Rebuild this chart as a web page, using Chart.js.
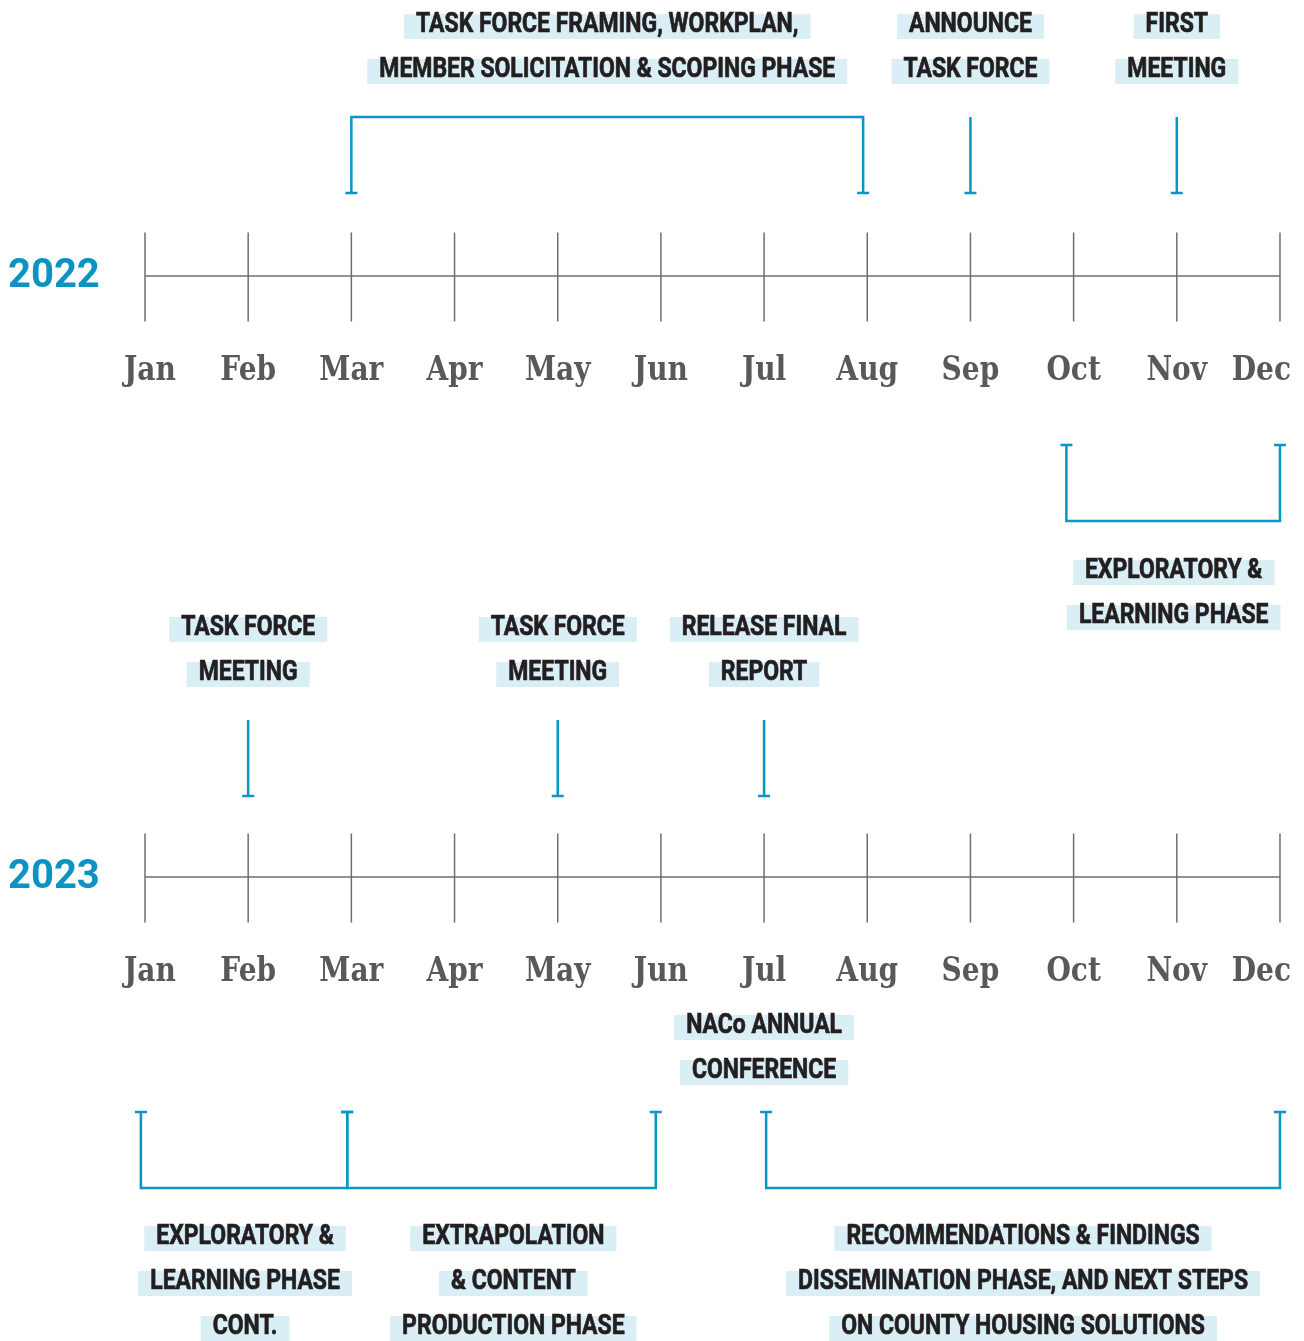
<!DOCTYPE html>
<html>
<head>
  <meta charset="utf-8">
  <title>Task Force Timeline 2022-2023</title>
  <script src="https://cdn.jsdelivr.net/npm/chart.js@4.4.0/dist/chart.umd.min.js"></script>
  <style>
    body { margin: 0; background: #fff; }
    #timeline { display: block; }
  </style>
</head>
<body>
<canvas id="timeline" width="1304" height="1341"></canvas>
<script>
// ---- data (months are 0 = Jan ... 11 = Dec) ----
const months = ['Jan', 'Feb', 'Mar', 'Apr', 'May', 'Jun', 'Jul', 'Aug', 'Sep', 'Oct', 'Nov', 'Dec'];
const years = ['2022', '2023'];

const events2022 = [8, 10];
const eventText2022 = [['ANNOUNCE', 'TASK FORCE'], ['FIRST', 'MEETING']];
const phaseFrom2022 = [2, 8.93];
const phaseTo2022 = [6.96, 11];
const phaseLabelAt2022 = [4.48, 9.97];
const phaseText2022 = [
  ['TASK FORCE FRAMING, WORKPLAN,', 'MEMBER SOLICITATION & SCOPING PHASE'],
  ['EXPLORATORY &', 'LEARNING PHASE']
];

const events2023 = [1, 4, 6];
const eventText2023 = [['TASK FORCE', 'MEETING'], ['TASK FORCE', 'MEETING'], ['RELEASE FINAL', 'REPORT']];
const notes2023 = [6];
const noteText2023 = [['NACo ANNUAL', 'CONFERENCE']];
const phaseFrom2023 = [-0.04, 1.96, 6.02];
const phaseTo2023 = [1.96, 4.95, 11];
const phaseLabelAt2023 = [0.97, 3.57, 8.51];
const phaseText2023 = [
  ['EXPLORATORY &', 'LEARNING PHASE', 'CONT.'],
  ['EXTRAPOLATION', '& CONTENT', 'PRODUCTION PHASE'],
  ['RECOMMENDATIONS & FINDINGS', 'DISSEMINATION PHASE, AND NEXT STEPS', 'ON COUNTY HOUSING SOLUTIONS']
];

// ---- layout (y in canvas pixels) ----
const BLUE = '#0796c6';
const GREY = '#6d6e71';
const rows = [
  { axisY: 276, events: events2022, eventText: eventText2022, stemTop: 117, stemBottom: 193, eventTextY: 32,
    from: phaseFrom2022, to: phaseTo2022, labelAt: phaseLabelAt2022, text: phaseText2022,
    brackets: [{ capY: 193, barY: 117, textY: 32 }, { capY: 445, barY: 521, textY: 578 }] },
  { axisY: 877, events: events2023, eventText: eventText2023, stemTop: 720, stemBottom: 796, eventTextY: 635,
    notes: notes2023, noteText: noteText2023, noteY: 1033,
    from: phaseFrom2023, to: phaseTo2023, labelAt: phaseLabelAt2023, text: phaseText2023,
    brackets: [{ capY: 1112, barY: 1188, textY: 1244 }, { capY: 1112, barY: 1188, textY: 1244 }, { capY: 1112, barY: 1188, textY: 1244 }] }
];

const datasets = [];
rows.forEach(row => {
  // main axis line
  datasets.push({
    data: [{ x: 0, y: row.axisY }, { x: 11, y: row.axisY }],
    showLine: true, borderColor: GREY, borderWidth: 1.5, pointRadius: 0
  });
  // month ticks
  datasets.push({
    data: months.map((m, i) => ({ x: i, y: row.axisY + 1 })),
    pointStyle: 'line', rotation: 90, pointRadius: 44.5,
    pointBorderColor: GREY, pointBorderWidth: 1.5, showLine: false
  });
  // event stems
  row.events.forEach(m => {
    datasets.push({
      data: [{ x: m, y: row.stemTop }, { x: m, y: row.stemBottom }],
      showLine: true, borderColor: BLUE, borderWidth: 2.5,
      pointStyle: 'line', pointRadius: [0, 6], pointBorderColor: BLUE, pointBorderWidth: 2.5
    });
  });
  // phase brackets
  row.from.forEach((f, i) => {
    const b = row.brackets[i];
    datasets.push({
      data: [{ x: f, y: b.capY }, { x: f, y: b.barY }, { x: row.to[i], y: b.barY }, { x: row.to[i], y: b.capY }],
      showLine: true, borderColor: BLUE, borderWidth: 2.5, borderJoinStyle: 'miter',
      pointStyle: 'line', pointRadius: [6, 0, 0, 6], pointBorderColor: BLUE, pointBorderWidth: 2.5
    });
  });
});

const SX = 0.82; // condense the label font horizontally

function drawLabel(ctx, lines, cx, baseline) {
  ctx.font = 'bold 28px Roboto';
  lines.forEach((line, i) => {
    const y = baseline + i * 45;
    const w = ctx.measureText(line).width * SX;
    ctx.fillStyle = '#d9eef5';
    ctx.fillRect(cx - w / 2 - 12, y - 18, w + 24, 25);
    ctx.save();
    ctx.translate(cx, y);
    ctx.scale(SX, 1);
    ctx.fillStyle = '#231f20';
    ctx.strokeStyle = '#231f20';
    ctx.lineWidth = 0.7;
    ctx.textAlign = 'center';
    ctx.textBaseline = 'alphabetic';
    ctx.fillText(line, 0, 0);
    ctx.strokeText(line, 0, 0);
    ctx.restore();
  });
}

const textPlugin = {
  id: 'timelineText',
  afterDatasetsDraw(chart) {
    const ctx = chart.ctx;
    const xs = chart.scales.x;
    ctx.save();
    rows.forEach((row, r) => {
      // year
      ctx.font = 'bold 40px Roboto';
      ctx.fillStyle = '#0a93c3';
      ctx.textAlign = 'left';
      ctx.fillText(years[r], 8, row.axisY + 11);
      // month labels
      ctx.font = 'bold 33px "DejaVu Serif", serif';
      ctx.fillStyle = '#58595b';
      months.forEach((m, i) => {
        const w = ctx.measureText(m).width * 0.85;
        let cx = xs.getPixelForValue(i);
        cx = Math.max(cx, 124 + w / 2);
        cx = Math.min(cx, 1291 - w / 2);
        ctx.save();
        ctx.translate(cx, row.axisY + 104);
        ctx.scale(0.85, 1);
        ctx.textAlign = 'center';
        ctx.fillText(m, 0, 0);
        ctx.restore();
      });
      row.events.forEach((m, i) => drawLabel(ctx, row.eventText[i], xs.getPixelForValue(m), row.eventTextY));
      if (row.notes) {
        row.notes.forEach((m, i) => drawLabel(ctx, row.noteText[i], xs.getPixelForValue(m), row.noteY));
      }
      row.labelAt.forEach((m, i) => {
        drawLabel(ctx, row.text[i], xs.getPixelForValue(m), row.brackets[i].textY);
      });
    });
    ctx.restore();
  }
};

new Chart(document.getElementById('timeline'), {
  type: 'scatter',
  data: { datasets: datasets },
  options: {
    responsive: false,
    animation: false,
    events: [],
    devicePixelRatio: 1,
    layout: { padding: 0, autoPadding: false },
    scales: {
      x: { type: 'linear', min: -145 / 103.18, max: 1159 / 103.18, display: false },
      y: { type: 'linear', min: 0, max: 1341, reverse: true, display: false }
    },
    plugins: { legend: { display: false }, tooltip: { enabled: false } }
  },
  plugins: [textPlugin]
});
</script>
</body>
</html>
